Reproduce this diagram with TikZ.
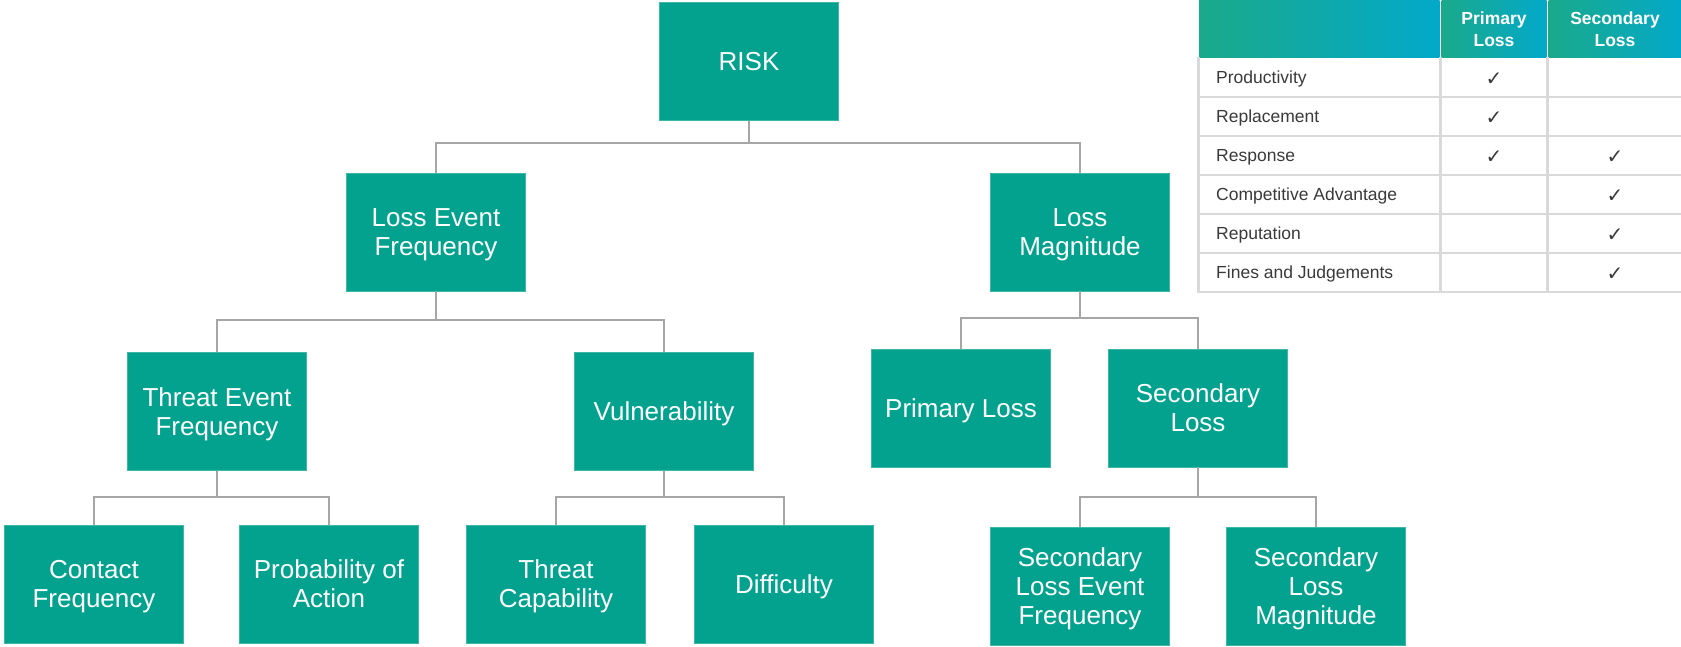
\documentclass[tikz,border=0pt]{standalone}
\usepackage{fontspec}
\setmainfont{Liberation Sans}
\newfontfamily\symfont{DejaVu Sans}
\definecolor{boxteal}{HTML}{02A28E}
\definecolor{boxedge}{HTML}{3DB8A6}
\definecolor{conngray}{HTML}{A6A6A6}
\definecolor{gridgray}{HTML}{D9D9D9}
\definecolor{hdrA}{HTML}{1AA98A}
\definecolor{hdrB}{HTML}{03A9CA}
\definecolor{txtgray}{HTML}{3A3A3A}
\tikzset{
  fbox/.style={rectangle, fill=boxteal, draw=boxedge, line width=0.8pt,
    minimum width=179pt, minimum height=118pt, inner sep=2pt,
    text=white, align=center, font=\fontsize{26}{29}\selectfont,
    text depth=0pt},
  conn/.style={draw=conngray, line width=2pt},
  rowtxt/.style={anchor=west, text=txtgray, font=\fontsize{17.5}{20}\selectfont, inner sep=0pt},
  chk/.style={text=txtgray, font=\symfont\fontsize{20}{22}\selectfont, inner sep=0pt},
  hdrtxt/.style={text=white, align=center, font=\bfseries\fontsize{17.5}{22}\selectfont, inner sep=0pt}
}
\begin{document}
\begin{tikzpicture}[x=1pt,y=-1pt]
\useasboundingbox (0,0) rectangle (1681,646);
\fill[white] (0,0) rectangle (1681,646);

% tree nodes
\node[fbox] (risk) at (749,61.5) {RISK};
\node[fbox] (lef) at (436,232) {Loss Event\\Frequency};
\node[fbox] (lm) at (1080,232) {Loss\\Magnitude};
\node[fbox] (tef) at (217,411.5) {Threat Event\\Frequency};
\node[fbox] (vul) at (664,411.5) {Vulnerability};
\node[fbox] (pl) at (961,408) {Primary Loss};
\node[fbox] (sl) at (1198,408) {Secondary\\Loss};
\node[fbox] (cf) at (94,584) {Contact\\Frequency};
\node[fbox] (poa) at (329,584) {Probability of\\Action};
\node[fbox] (tc) at (556,584) {Threat\\Capability};
\node[fbox] (dif) at (784,584) {Difficulty};
\node[fbox] (slef) at (1080,586) {Secondary\\Loss Event\\Frequency};
\node[fbox] (slm) at (1316,586) {Secondary\\Loss\\Magnitude};

% connectors
\coordinate (b1) at (749,143);
\draw[conn] (risk.south) -- (b1) -| (lef.north);
\draw[conn] (b1) -| (lm.north);
\coordinate (b2) at (436,320);
\draw[conn] (lef.south) -- (b2) -| (tef.north);
\draw[conn] (b2) -| (vul.north);
\coordinate (b3) at (1080,318);
\draw[conn] (lm.south) -- (b3) -| (pl.north);
\draw[conn] (b3) -| (sl.north);
\coordinate (b4) at (217,497);
\draw[conn] (tef.south) -- (b4) -| (cf.north);
\draw[conn] (b4) -| (poa.north);
\coordinate (b5) at (664,497);
\draw[conn] (vul.south) -- (b5) -| (tc.north);
\draw[conn] (b5) -| (dif.north);
\coordinate (b6) at (1198,497);
\draw[conn] (sl.south) -- (b6) -| (slef.north);
\draw[conn] (b6) -| (slm.north);

% table header
\shade[left color=hdrA, right color=hdrB] (1199,0) rectangle (1439.5,57);
\shade[left color=hdrA, right color=hdrB] (1441.5,0) rectangle (1546.5,57);
\shade[left color=hdrA, right color=hdrB] (1548.5,0) rectangle (1681,57);
\node[hdrtxt] (hp) at (1494,29) {Primary\\Loss};
\node[hdrtxt] (hs) at (1615,29) {Secondary\\Loss};

% table grid
\foreach \yy in {97,136,175,214,253,292} {
  \draw[gridgray, line width=2.5pt] (1197.5,\yy) -- (1681,\yy);
}
\draw[gridgray, line width=2.5pt] (1198.5,57) -- (1198.5,293.2);
\draw[gridgray, line width=2.5pt] (1440.5,57) -- (1440.5,293.2);
\draw[gridgray, line width=2.5pt] (1547.5,57) -- (1547.5,293.2);

% table rows
\node[rowtxt] (r1) at (1216,79) {Productivity};
\node[rowtxt] (r2) at (1216,118) {Replacement};
\node[rowtxt] (r3) at (1216,157) {Response};
\node[rowtxt] (r4) at (1216,196) {Competitive Advantage};
\node[rowtxt] (r5) at (1216,235) {Reputation};
\node[rowtxt] (r6) at (1216,274) {Fines and Judgements};

\node[chk] (c1p) at (1494,79) {✓};
\node[chk] (c2p) at (1494,118) {✓};
\node[chk] (c3p) at (1494,157) {✓};
\node[chk] (c3s) at (1615,157) {✓};
\node[chk] (c4s) at (1615,196) {✓};
\node[chk] (c5s) at (1615,235) {✓};
\node[chk] (c6s) at (1615,274) {✓};
\end{tikzpicture}
\end{document}
